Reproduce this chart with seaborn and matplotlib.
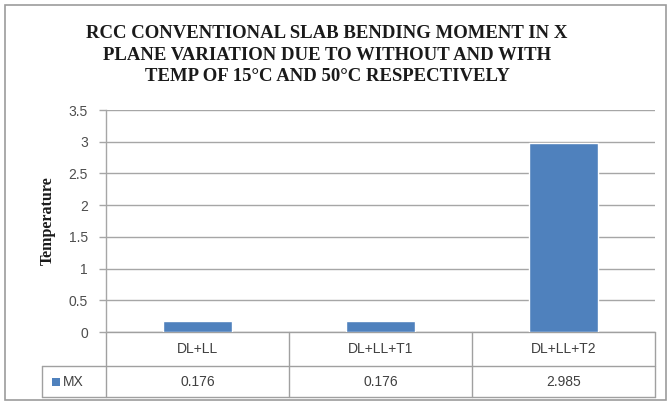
import matplotlib
matplotlib.use("Agg")
import matplotlib.pyplot as plt
import matplotlib.transforms as mtransforms
from matplotlib.patches import Rectangle
import seaborn as sns
import pandas as pd

categories = ["DL+LL", "DL+LL+T1", "DL+LL+T2"]
mx_values = [0.176, 0.176, 2.985]
mx_labels = ["0.176", "0.176", "2.985"]
series_name = "MX"
yticks = [0, 0.5, 1, 1.5, 2, 2.5, 3, 3.5]
ytick_labels = ["0", "0.5", "1", "1.5", "2", "2.5", "3", "3.5"]
title = ("RCC CONVENTIONAL SLAB BENDING MOMENT IN X\n"
         "PLANE VARIATION DUE TO WITHOUT AND WITH\n"
         "TEMP OF 15\u00b0C AND 50\u00b0C RESPECTIVELY")
ylabel = "Temperature"

W, H = 668, 401
BAR = "#4F81BD"
GRID = "#A6A6A6"

sns.set_theme(style="white")
plt.rcParams["font.family"] = ["Liberation Sans", "DejaVu Sans"]

fig = plt.figure(figsize=(W / 100, H / 100), dpi=100)
fig.patch.set_facecolor("white")

# outer frame
fig.patches.append(Rectangle((5 / W, 1 / H), 661 / W, 395 / H, transform=fig.transFigure,
                             fill=False, edgecolor="#9C9C9C", linewidth=1.2))

left, right, top, bottom = 106, 655, 110, 332
ax = fig.add_axes([left / W, (H - bottom) / H, (right - left) / W, (bottom - top) / H])

df = pd.DataFrame({"cat": categories, "val": mx_values})
sns.barplot(data=df, x="cat", y="val", color=BAR, width=0.38, saturation=1, ax=ax, zorder=3)

ax.set_ylim(0, 3.5)
ax.set_xlim(-0.5, 2.5)
ax.set_yticks(yticks)
ax.set_yticklabels(ytick_labels, fontsize=10, color="#4D4D4D")
ax.set_xticks([])
ax.set_xlabel("")
ax.set_ylabel(ylabel, fontsize=11.5, fontweight="bold", family=["Liberation Serif"],
              color="#1A1A1A", labelpad=9)
ax.yaxis.grid(True, color=GRID, linewidth=1.0, zorder=0)
ax.set_axisbelow(True)
for s in ["top", "right", "bottom"]:
    ax.spines[s].set_visible(False)
ax.spines["left"].set_color(GRID)
ax.spines["left"].set_linewidth(1.0)
ax.tick_params(axis="y", which="major", left=True, length=5, width=1.0, color=GRID, pad=8)

# data table below the axes
trans = mtransforms.blended_transform_factory(ax.transData, ax.transAxes)
ph = bottom - top
r1 = -(366 - bottom) / ph
r2 = -(397 - bottom) / ph
lc = dict(color="#A0A0A0", linewidth=1.0, clip_on=False, transform=trans)
ax.plot([-0.5, 2.5], [0, 0], **lc)
ax.plot([-0.5 - 64 / 183, 2.5], [r1, r1], **lc)
ax.plot([-0.5 - 64 / 183, 2.5], [r2, r2], **lc)
for xb in [-0.5, 0.5, 1.5, 2.5]:
    ax.plot([xb, xb], [0, r2], **lc)
ax.plot([-0.5 - 64 / 183] * 2, [r1, r2], **lc)
for i, (c, v) in enumerate(zip(categories, mx_labels)):
    ax.text(i, r1 / 2, c, transform=trans, ha="center", va="center", fontsize=10, color="#404040")
    ax.text(i, (r1 + r2) / 2, v, transform=trans, ha="center", va="center", fontsize=10, color="#404040")
xk = -0.5 - 64 / 183
ax.add_patch(Rectangle((xk + 10 / 183, (r1 + r2) / 2 - 4 / ph), 8 / 183, 8 / ph,
                       transform=trans, facecolor=BAR, edgecolor="none", clip_on=False))
ax.text(xk + 21 / 183, (r1 + r2) / 2, series_name, transform=trans, ha="left", va="center",
        fontsize=10, color="#404040")

fig.text(327 / W, 1 - 55 / H, title, ha="center", va="center", fontsize=13.5,
         fontweight="bold", family=["Liberation Serif"], color="#1A1A1A", linespacing=1.38)

fig.savefig("out.png", dpi=100, facecolor="white")
